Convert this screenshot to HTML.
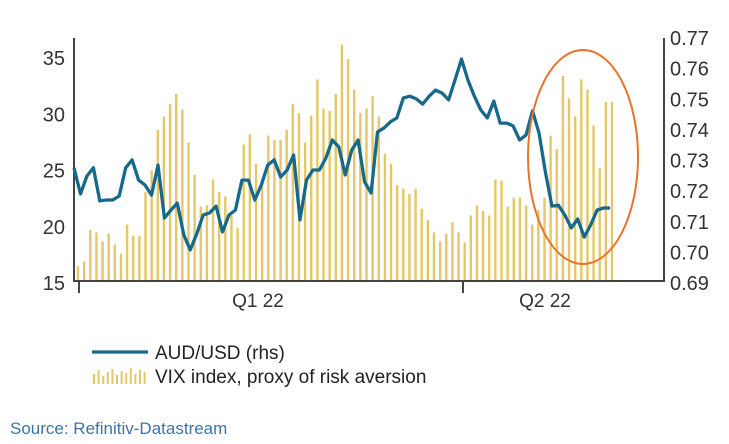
<!DOCTYPE html>
<html><head><meta charset="utf-8"><style>
html,body{margin:0;padding:0;background:#fff;}
svg{display:block;font-family:"Liberation Sans",sans-serif;}
</style></head><body>
<svg id="c" width="729" height="444">
<g id="bars"></g>
<g id="axes"></g>
<path id="line" fill="none" stroke="#17698c" stroke-width="3.3" stroke-linejoin="round"/>
<ellipse cx="583" cy="157" rx="55" ry="107" fill="none" stroke="#e8742c" stroke-width="2"/>
<g>
<line x1="92" y1="352" x2="148" y2="352" stroke="#17698c" stroke-width="3.3"/>
<text x="155" y="359" font-size="19" fill="#222">AUD/USD (rhs)</text>
<g id="legbars"></g>
<text x="155" y="383" font-size="19" fill="#222">VIX index, proxy of risk aversion</text>
</g>
<text x="10" y="434" font-size="17" fill="#3d74a8">Source: Refinitiv-Datastream</text>
</svg>
<script>
const vix=[16.5,16.9,19.7,19.5,18.7,19.4,18.4,17.6,20.2,19.2,19.2,23.1,25,28.6,29.8,30.9,31.8,30.4,27.5,24.6,21.8,21.9,24.2,23.1,22.7,21,19.9,27.3,28.2,25.6,24.2,28.1,27.7,27.7,28.6,30.9,30.1,27.5,29.9,33.1,30.5,30.3,31.8,36.2,34.9,32.2,30.1,30.5,31.6,29.8,26.5,25.6,23.7,23.4,22.9,23.4,21.6,20.6,19.5,18.7,19.4,20.4,19.5,18.6,21.0,21.9,21.4,21.0,24.2,24.1,21.8,22.6,22.6,21.9,20.2,21.5,22.6,28.1,26.9,33.4,31.4,29.8,33.1,32.2,29.0,25.2,31.1,31.1];
const aud=[0.7276,0.7191,0.7249,0.7276,0.7168,0.7171,0.7171,0.7184,0.7276,0.7302,0.7236,0.7220,0.7187,0.7285,0.7112,0.7138,0.7161,0.7057,0.7008,0.7060,0.7122,0.7129,0.7151,0.7067,0.7122,0.7138,0.7236,0.7236,0.7171,0.7220,0.7285,0.7302,0.7246,0.7269,0.7318,0.7106,0.7236,0.7269,0.7269,0.7308,0.7367,0.7344,0.7253,0.7334,0.7367,0.7230,0.7194,0.7393,0.7406,0.7426,0.7439,0.7504,0.7510,0.7501,0.7484,0.7510,0.7530,0.7520,0.7498,0.7563,0.7631,0.7563,0.7510,0.7465,0.7439,0.7494,0.7422,0.7422,0.7413,0.7367,0.7383,0.7462,0.7390,0.7262,0.7151,0.7154,0.7122,0.7080,0.7109,0.7050,0.7089,0.7138,0.7145,0.7145];
const leftTicks=[15,20,25,30,35];
const rightTicks=["0.69","0.70","0.71","0.72","0.73","0.74","0.75","0.76","0.77"];
const qLabels=["Q1 22","Q2 22"];
const NS="http://www.w3.org/2000/svg";
function yL(v){return 283-(v-15)*11.25;}
function yR(v){return 283-(v-0.69)*3062.5;}
function xBar(i){return 78+i*(612-78)/(vix.length-1);}
function xLine(i){return 74+i*(610-74)/(aud.length-1);}
function mk(tag,attrs,parent){const e=document.createElementNS(NS,tag);for(const k in attrs)e.setAttribute(k,attrs[k]);parent.appendChild(e);return e;}
const bars=document.getElementById('bars');
vix.forEach((v,i)=>{const r=mk('rect',{x:xBar(i)-1.2,y:yL(v),width:2.4,height:281-yL(v),fill:'#e6c768'},bars);

});
document.getElementById('line').setAttribute('d',aud.map((v,i)=>(i?'L':'M')+xLine(i).toFixed(1)+','+yR(v).toFixed(1)).join(''));
const ax=document.getElementById('axes');
mk('line',{x1:74,y1:38,x2:74,y2:282,stroke:'#444','stroke-width':2},ax);
mk('line',{x1:664,y1:38,x2:664,y2:282,stroke:'#444','stroke-width':2},ax);
mk('line',{x1:73,y1:281,x2:665,y2:281,stroke:'#444','stroke-width':2},ax);
mk('line',{x1:79,y1:281,x2:79,y2:293,stroke:'#444','stroke-width':2},ax);
mk('line',{x1:463,y1:281,x2:463,y2:293,stroke:'#444','stroke-width':2},ax);
leftTicks.forEach(v=>{const t=mk('text',{x:65,y:yL(v)+7,'font-size':20,'text-anchor':'end',fill:'#333'},ax);t.textContent=v;

});
rightTicks.forEach(v=>{const t=mk('text',{x:670,y:yR(+v)+7,'font-size':20,fill:'#333'},ax);t.textContent=v;

});
[258,545].forEach((x,i)=>{const t=mk('text',{x:x,y:307,'font-size':19,'text-anchor':'middle',fill:'#333'},ax);t.textContent=qLabels[i];

});
const lb=document.getElementById('legbars');
[10,14,8,12,15,9,13,11,16,10,14,12].forEach((h,i)=>mk('rect',{x:93+i*4.6,y:384-h,width:2,height:h,fill:'#e6c768'},lb));
</script>
</body></html>
